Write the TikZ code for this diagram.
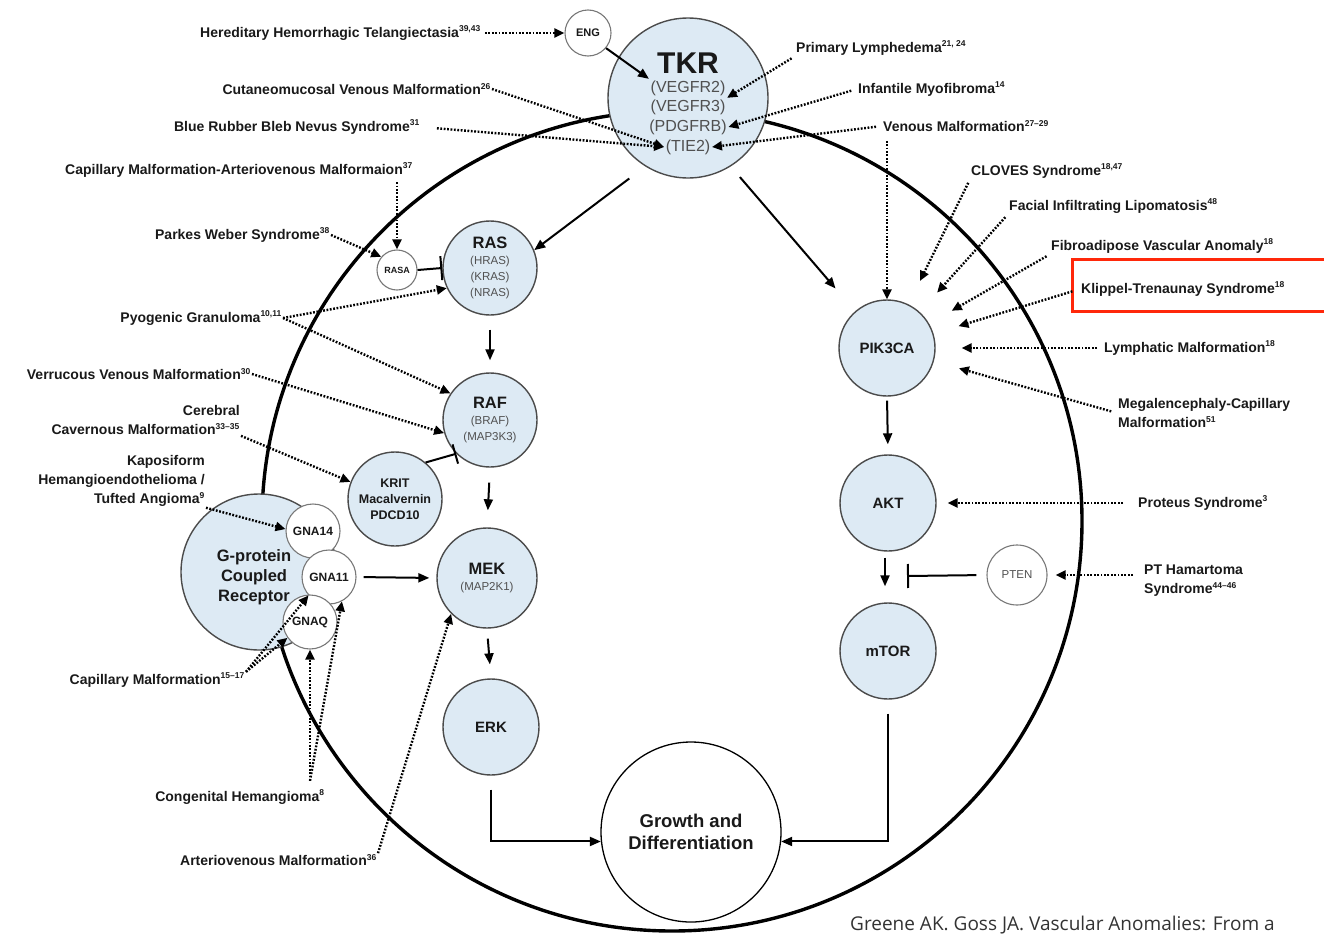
\documentclass[tikz,border=0pt]{standalone}
\usepackage{fontspec}
\setmainfont{Liberation Sans}
\newfontfamily\citefont{Open Sans}
\usetikzlibrary{arrows.meta,positioning,calc}
\definecolor{cellblue}{RGB}{221,234,244}
\definecolor{rimgray}{RGB}{75,75,75}
\definecolor{subgray}{RGB}{80,80,80}
\definecolor{textdark}{RGB}{25,25,25}
\definecolor{boxred}{RGB}{255,40,10}
\newcommand{\rf}[1]{\textsuperscript{\fontsize{8.5}{9}\selectfont #1}}
\newcommand{\protsub}[1]{{\fontsize{11.5}{16}\selectfont\mdseries\color{subgray}#1}}
\tikzset{
  protein/.style={circle, draw=rimgray, line width=1.4pt, fill=cellblue, inner sep=0pt, align=center, text=textdark, font=\fontsize{16.5}{16}\selectfont\bfseries},
  adapter/.style={circle, draw=rimgray!75, line width=1.1pt, fill=white, inner sep=0pt, text=textdark, font=\fontsize{12}{12}\selectfont\bfseries},
  tkrsub/.style={font=\fontsize{16}{18}\selectfont, text=subgray, inner sep=1.5pt},
  disease/.style={font=\fontsize{14}{19}\selectfont\bfseries, text=textdark, inner sep=1pt},
  sig/.style={-{Triangle[length=11pt,width=9pt]}, line width=2pt},
  assoc/.style={-{Triangle[length=10pt,width=9pt]}, line width=2.4pt, dash pattern=on 1.8pt off 1.6pt},
  inhib/.style={-{Bar[width=24pt,line width=2pt]}, line width=2pt}
}
\begin{document}
\begin{tikzpicture}[x=1pt,y=-1pt]
  \useasboundingbox (0,0) rectangle (1324,937);

  % Cell boundary
  \draw[line width=3.4pt] (672,521) circle[radius=410pt];

  % Receptor tyrosine kinase
  \node[protein, minimum size=160pt] (tkr) at (688,98) {};
  \node[font=\fontsize{30}{30}\selectfont\bfseries, text=textdark] (tkrname) at (688,63) {TKR};
  \node[tkrsub] (vegfr2) at (688,88) {(VEGFR2)};
  \node[tkrsub] (vegfr3) at (688,107) {(VEGFR3)};
  \node[tkrsub] (pdgfrb) at (688,127) {(PDGFRB)};
  \node[tkrsub] (tie2) at (688,147) {(TIE2)};
  \node[adapter, minimum size=46pt, font=\fontsize{11}{12}\selectfont\bfseries] (eng) at (588,33) {ENG};

  % RAS / MAPK branch
  \node[protein, minimum size=94pt] (ras) at (490,268) {RAS\\\protsub{(HRAS)}\\\protsub{(KRAS)}\\\protsub{(NRAS)}};
  \node[adapter, minimum size=40pt, font=\fontsize{9}{10}\selectfont\bfseries] (rasa) at (397,270) {RASA};
  \node[protein, minimum size=94pt] (raf) at (490,420) {RAF\\\protsub{(BRAF)}\\\protsub{(MAP3K3)}};
  \node[protein, minimum size=94pt, font=\fontsize{12.5}{16}\selectfont\bfseries] (krit) at (395,499) {KRIT\\Macalvernin\\PDCD10};
  \node[protein, minimum size=100pt] (mek) at (487,578) {MEK\\\protsub{(MAP2K1)}};
  \node[protein, minimum size=96pt, font=\fontsize{15}{16}\selectfont\bfseries] (erk) at (491,727) {ERK};

  % G-protein coupled receptor
  \node[protein, minimum size=156pt] (gpcr) at (259,572) {};
  \node[font=\fontsize{16.5}{20}\selectfont\bfseries, text=textdark, align=center] (gpcrtext) at (254,577) {G-protein\\Coupled\\Receptor};
  \node[adapter, minimum size=54pt] (gna14) at (313,531) {GNA14};
  \node[adapter, minimum size=54pt] (gna11) at (329,577) {GNA11};
  \node[adapter, minimum size=54pt] (gnaq) at (310,622) {GNAQ};

  % PI3K branch
  \node[protein, minimum size=96pt, font=\fontsize{15}{16}\selectfont\bfseries] (pik3ca) at (887,348) {PIK3CA};
  \node[protein, minimum size=96pt, font=\fontsize{15}{16}\selectfont\bfseries] (akt) at (888,503) {AKT};
  \node[protein, minimum size=96pt, font=\fontsize{15}{16}\selectfont\bfseries] (mtor) at (888,651) {mTOR};
  \node[adapter, minimum size=60pt, font=\fontsize{11.5}{12}\selectfont, text=subgray] (pten) at (1017,575) {PTEN};

  % Outcome
  \node[circle, draw=black, line width=1.3pt, fill=white, minimum size=180pt, align=center, font=\fontsize{18.5}{22}\selectfont\bfseries, text=textdark] (growth) at (691,832) {Growth and\\Differentiation};

  % Signalling arrows
  \draw[sig] (eng.-40) -- (vegfr2.north west);
  \draw[sig, shorten <=20pt] (tkr.238) -- (ras.22);
  \draw[sig, shorten <=14pt, shorten >=30pt] (tkr.-58) -- (pik3ca.131);
  \draw[sig, shorten <=14pt, shorten >=12pt] (ras.south) -- (raf.north);
  \draw[sig, shorten <=15pt, shorten >=17pt] (raf.south) -- (mek.north);
  \draw[sig, shorten <=10pt, shorten >=14pt] (mek.south) -- (erk.north);
  \draw[sig, shorten <=7pt, shorten >=7pt] (gna11.east) -- (mek.west);
  \draw[sig, shorten <=14pt] (erk.south) |- (growth.186);
  \draw[sig, shorten <=4pt, shorten >=10pt] (pik3ca.south) -- (akt.north);
  \draw[sig, shorten <=6pt, shorten >=16pt] ($(akt.south)+(-3,0)$) -- ($(mtor.north)+(-3,0)$);
  \draw[sig, shorten <=14pt] (mtor.south) |- (growth.-6);

  % Inhibition
  \coordinate (ptbar) at ($(akt.south)!0.5!(mtor.north)+(19,-1)$);
  \draw[inhib, shorten <=10pt] (pten.west) -- (ptbar);
  \draw[inhib] (rasa.east) -- (ras.west);
  \draw[inhib, -{Bar[width=20pt,line width=2pt]}] (krit.50) -- (raf.225);

  % Disease labels, left
  \node[disease, anchor=east] (hht) at (482,33) {Hereditary Hemorrhagic Telangiectasia\rf{39,43}};
  \node[disease, anchor=east] (cvm) at (492,89) {Cutaneomucosal Venous Malformation\rf{26}};
  \node[disease, anchor=east] (brbn) at (421,127) {Blue Rubber Bleb Nevus Syndrome\rf{31}};
  \node[disease, anchor=east] (cmavm) at (414,170) {Capillary Malformation-Arteriovenous Malformaion\rf{37}};
  \node[disease, anchor=east] (pws) at (331,235) {Parkes Weber Syndrome\rf{38}};
  \node[disease, anchor=east] (pg) at (283,318) {Pyogenic Granuloma\rf{10,11}};
  \node[disease, anchor=east] (vvm) at (252,374) {Verrucous Venous Malformation\rf{30}};
  \node[disease, anchor=east, align=right] (ccm) at (241,420) {Cerebral\\Cavernous Malformation\rf{33--35}};
  \node[disease, anchor=east, align=right] (kht) at (206,481) {Kaposiform\\Hemangioendothelioma /\\Tufted Angioma\rf{9}};
  \node[disease, anchor=east] (cm) at (246,680) {Capillary Malformation\rf{15--17}};
  \node[disease] (ch) at (240,797) {Congenital Hemangioma\rf{8}};
  \node[disease, anchor=east] (avm) at (378,860) {Arteriovenous Malformation\rf{36}};

  % Disease labels, right
  \node[disease, anchor=west] (pl) at (795,48) {Primary Lymphedema\rf{21, 24}};
  \node[disease, anchor=west] (im) at (857,89) {Infantile Myofibroma\rf{14}};
  \node[disease, anchor=west] (vm) at (882,126) {Venous Malformation\rf{27--29}};
  \node[disease, anchor=west] (cloves) at (970,171) {CLOVES Syndrome\rf{18,47}};
  \node[disease, anchor=west] (fil) at (1008,206) {Facial Infiltrating Lipomatosis\rf{48}};
  \node[disease, anchor=west] (fva) at (1050,246) {Fibroadipose Vascular Anomaly\rf{18}};
  \node[disease, anchor=west] (kts) at (1080,289) {Klippel-Trenaunay Syndrome\rf{18}};
  \node[disease, anchor=west] (lm) at (1103,348) {Lymphatic Malformation\rf{18}};
  \node[disease, anchor=west, align=left] (mcm) at (1117,413) {Megalencephaly-Capillary\\Malformation\rf{51}};
  \node[disease, anchor=west] (ps) at (1137,503) {Proteus Syndrome\rf{3}};
  \node[disease, anchor=west, align=left] (pth) at (1143,581) {PT Hamartoma\\Syndrome\rf{44--46}};

  % Highlight box
  \draw[boxred, line width=3pt] (1072,259) rectangle (1340,311);

  % Mutation arrows, left
  \draw[assoc, shorten <=3pt] (hht.east) -- (eng.west);
  \draw[assoc] (cvm.east) -- (tie2.west);
  \draw[assoc, shorten <=16pt] (brbn.east) -- (tie2.west);
  \draw[assoc, shorten <=4pt] (cmavm.south -| rasa.north) -- (rasa.north);
  \draw[assoc] (pws.east) -- (rasa.140);
  \draw[assoc] (pg.east) -- (ras.205);
  \draw[assoc] (pg.east) -- (raf.146);
  \draw[assoc] (vvm.east) -- (raf.196);
  \draw[assoc] (ccm.south east) -- (krit.159);
  \draw[assoc] (kht.south east) -- (gna14.176);
  \draw[assoc] (cm.north east) -- (gna11.222);
  \draw[assoc] (cm.north east) -- (gnaq.215);
  \coordinate (chtop) at ($(ch.north -| gnaq.south)+(0,-8)$);
  \draw[assoc] (chtop) -- (gnaq.south);
  \draw[assoc] (chtop) -- (gna11.-62);
  \draw[assoc] (avm.north east) -- (mek.225);

  % Mutation arrows, right
  \draw[assoc, shorten <=4pt] (pl.south west) -- (vegfr3.north east);
  \draw[assoc, shorten <=6pt] (im.west) -- (pdgfrb.east);
  \draw[assoc, shorten <=6pt] (vm.west) -- (tie2.east);
  \draw[assoc, shorten <=8pt] (vm.south -| pik3ca.north) -- (pik3ca.north);
  \draw[assoc, shorten <=4pt, shorten >=26pt] (cloves.south west) -- (pik3ca);
  \draw[assoc, shorten <=4pt, shorten >=26pt] (fil.south west) -- (pik3ca);
  \draw[assoc, shorten <=4pt, shorten >=26pt] (fva.south west) -- (pik3ca);
  \draw[assoc, shorten <=8pt, shorten >=26pt] (kts.west) -- (pik3ca);
  \draw[assoc, shorten <=6pt, shorten >=26pt] (lm.west) -- (pik3ca);
  \draw[assoc, shorten <=6pt, shorten >=26pt] (mcm.west) -- (pik3ca);
  \draw[assoc, shorten <=14pt, shorten >=11pt] (ps.west) -- (akt.east);
  \draw[assoc, shorten <=10pt, shorten >=8pt] (pth.west |- pten.east) -- (pten.east);

  % Citation
  \node[anchor=base west, font=\citefont\fontsize{19}{22}\selectfont, text=black!80, inner sep=0pt] (cite) at (850,930) {Greene AK. Goss JA. Vascular Anomalies: From a};
\end{tikzpicture}
\end{document}
